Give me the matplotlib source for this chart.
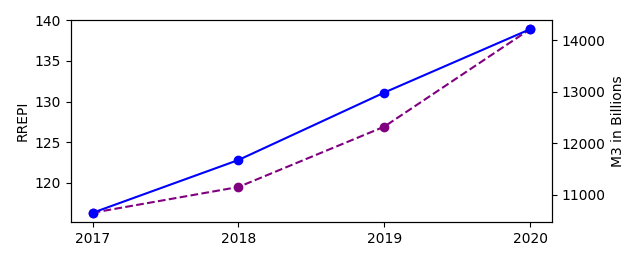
import matplotlib
matplotlib.use('Agg')
import matplotlib.pyplot as plt

# Datos
years = [2017, 2018, 2019, 2020]
rrepi = [116.3, 122.8, 131.1, 138.9]
m3_billions = [10650, 11150, 12320, 14210]

fig, ax1 = plt.subplots(figsize=(6.38, 2.71), dpi=100)

# Eje izquierdo: RREPI
ax1.plot(years, rrepi, color='blue', marker='o', linestyle='-')
ax1.set_ylabel('RREPI')
ax1.set_xticks(years)

# Eje derecho: M3
ax2 = ax1.twinx()
ax2.plot(years, m3_billions, color='purple', marker='o', linestyle='--')
ax2.set_ylabel('M3 in Billions')

# La serie azul queda por encima
ax1.set_zorder(ax2.get_zorder() + 1)
ax1.patch.set_visible(False)

fig.subplots_adjust(left=0.111, right=0.865, top=0.926, bottom=0.181)
fig.savefig('out.png', dpi=100)
